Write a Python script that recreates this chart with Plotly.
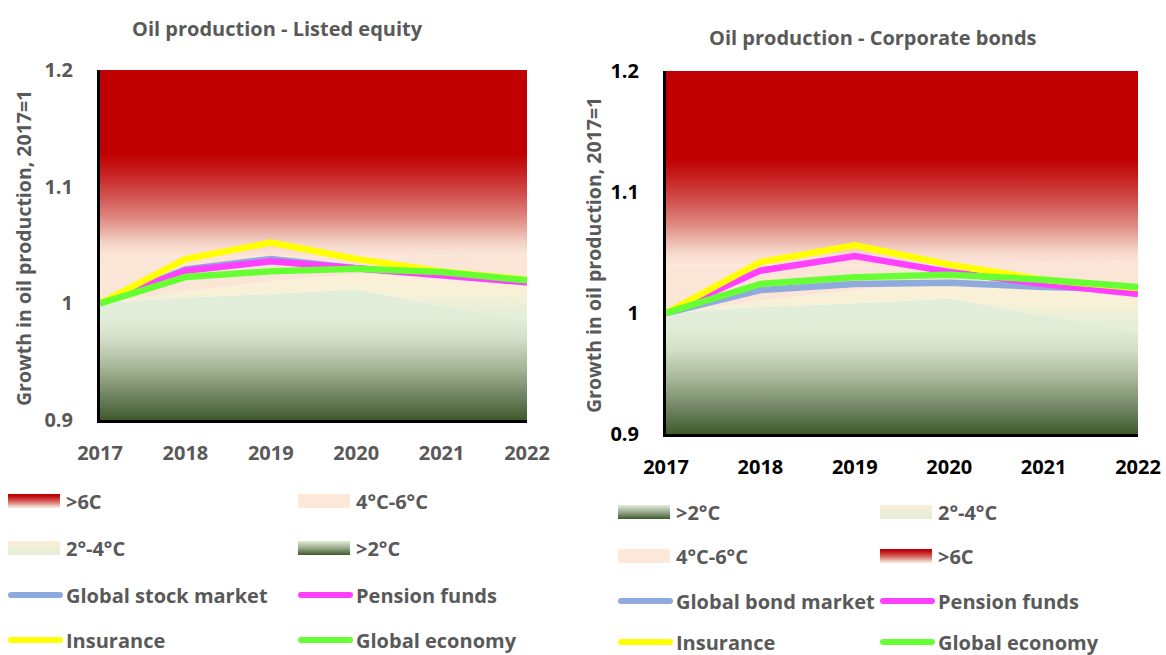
import plotly.graph_objects as go

# ---------------- data ----------------
years = [2017, 2018, 2019, 2020, 2021, 2022]
y_ticks = [0.9, 1.0, 1.1, 1.2]
y_tick_text = ["0.9", "1", "1.1", "1.2"]

band_floor = [0.9, 0.9, 0.9, 0.9, 0.9, 0.9]
band_below_2 = [1.0, 1.005, 1.008, 1.012, 0.998, 0.985]
band_2_4 = [1.0, 1.01, 1.019, 1.025, 1.023, 1.02]
band_4_6 = [1.04, 1.04, 1.04, 1.04, 1.041, 1.043]
band_above_6 = [1.2, 1.2, 1.2, 1.2, 1.2, 1.2]

eq_stock = [1.0, 1.029, 1.038, 1.030, 1.025, 1.018]
eq_pension = [1.0, 1.028, 1.036, 1.0296, 1.024, 1.018]
eq_insurance = [1.0, 1.038, 1.052, 1.038, 1.0274, 1.0203]
eq_economy = [1.0, 1.0225, 1.0274, 1.0296, 1.0268, 1.0197]

bd_market = [1.0, 1.019, 1.024, 1.025, 1.0215, 1.0195]
bd_pension = [1.0, 1.035, 1.047, 1.034, 1.024, 1.0157]
bd_insurance = [1.0, 1.042, 1.056, 1.040, 1.0275, 1.0207]
bd_economy = [1.0, 1.024, 1.0295, 1.0317, 1.0275, 1.0215]

titles = ["Oil production - Listed equity", "Oil production - Corporate bonds"]
y_title = "Growth in oil production, 2017=1"
band_names = [">2°C", "2°-4°C", "4°C-6°C", ">6C"]
eq_line_names = ["Global stock market", "Pension funds", "Insurance", "Global economy"]
bd_line_names = ["Global bond market", "Pension funds", "Insurance", "Global economy"]

# ---------------- styles ----------------
FONT = "Open Sans"
GREY = "#595959"
W, H = 1166, 655
line_colors = ["#8faadc", "#ff40ff", "#ffff00", "#66ff33"]

green_scale = [[0, "#3f5a2b"], [0.2, "#6d8260"], [0.45, "#a6b698"], [0.7, "#d3dfc8"],
               [0.85, "#e1ecd7"], [1, "#e3eeda"]]
cream_scale = [[0, "#e4eed9"], [0.5, "#f6f1d6"], [1, "#fdf0d9"]]
peach_color = "#fbe5d7"
red_scale = [[0, "#fbe5d7"], [0.04, "#f9ded2"], [0.08, "#f3cfc3"], [0.13, "#eab4a8"],
             [0.2, "#e08c84"], [0.34, "#d04c4a"], [0.45, "#c62020"], [0.55, "#c00000"],
             [1, "#c00000"]]

fig = go.Figure()


def add_chart(xa, ya, lines, names):
    xref = "x" if xa == 1 else f"x{xa}"
    yref = "y" if ya == 1 else f"y{ya}"
    fig.add_trace(go.Scatter(x=years, y=band_floor, mode="lines", line=dict(width=0),
                             xaxis=xref, yaxis=yref, showlegend=False, hoverinfo="skip"))
    fig.add_trace(go.Scatter(x=years, y=band_below_2, mode="none", fill="tonexty",
                             fillgradient=dict(type="vertical", colorscale=green_scale,
                                               start=0.9, stop=1.0),
                             xaxis=xref, yaxis=yref, name=band_names[0], showlegend=False))
    fig.add_trace(go.Scatter(x=years, y=band_2_4, mode="none", fill="tonexty",
                             fillgradient=dict(type="vertical", colorscale=cream_scale,
                                               start=0.99, stop=1.025),
                             xaxis=xref, yaxis=yref, name=band_names[1], showlegend=False))
    fig.add_trace(go.Scatter(x=years, y=band_4_6, mode="none", fill="tonexty",
                             fillcolor=peach_color,
                             xaxis=xref, yaxis=yref, name=band_names[2], showlegend=False))
    fig.add_trace(go.Scatter(x=years, y=band_above_6, mode="none", fill="tonexty",
                             fillgradient=dict(type="vertical", colorscale=red_scale,
                                               start=1.04, stop=1.2),
                             xaxis=xref, yaxis=yref, name=band_names[3], showlegend=False))
    for vals, nm, col in zip(lines, names, line_colors):
        fig.add_trace(go.Scatter(x=years, y=vals, mode="lines", name=nm,
                                 line=dict(color=col, width=6.5),
                                 xaxis=xref, yaxis=yref, showlegend=False))


add_chart(1, 1, [eq_stock, eq_pension, eq_insurance, eq_economy], eq_line_names)
add_chart(2, 2, [bd_market, bd_pension, bd_insurance, bd_economy], bd_line_names)


def px_x(p):
    return p / W


def px_y(p):
    return 1 - p / H


def xaxis_cfg(dom, anchor, color):
    return dict(domain=dom, anchor=anchor, range=[2017, 2022], tickvals=years,
                ticktext=[str(y) for y in years], showgrid=False, zeroline=False,
                showline=True, linecolor="black", linewidth=3, automargin=False,
                tickfont=dict(family=FONT, size=20, color=color, weight="bold"),
                ticklabelstandoff=13)


def yaxis_cfg(dom, anchor, color):
    return dict(domain=dom, anchor=anchor, range=[0.9, 1.2], tickvals=y_ticks,
                ticktext=y_tick_text, showgrid=False, zeroline=False,
                showline=True, linecolor="black", linewidth=3, automargin=False,
                tickfont=dict(family=FONT, size=20, color=color, weight="bold"),
                ticklabelstandoff=20)


fig.update_layout(
    width=W, height=H,
    margin=dict(l=0, r=0, t=0, b=0, autoexpand=False),
    paper_bgcolor="white", plot_bgcolor="white",
    showlegend=False,
    xaxis=xaxis_cfg([px_x(100), px_x(527)], "y", GREY),
    yaxis=yaxis_cfg([px_y(420), px_y(70)], "x", GREY),
    xaxis2=xaxis_cfg([px_x(666), px_x(1138)], "y2", "black"),
    yaxis2=yaxis_cfg([px_y(434), px_y(71)], "x2", "black"),
)

annotations = []
shapes = []

TF = dict(family=FONT, size=20, color=GREY, weight="bold")
annotations.append(dict(text=titles[0], x=px_x(277), y=px_y(28), xref="paper", yref="paper",
                        xanchor="center", yanchor="middle", showarrow=False, font=TF))
annotations.append(dict(text=titles[1], x=px_x(873), y=px_y(37), xref="paper", yref="paper",
                        xanchor="center", yanchor="middle", showarrow=False, font=TF))
YF = dict(family=FONT, size=19.5, color=GREY, weight="bold")
annotations.append(dict(text=y_title, x=px_x(23), y=px_y(248), xref="paper", yref="paper",
                        xanchor="center", yanchor="middle",
                        textangle=-90, showarrow=False, font=YF))
annotations.append(dict(text=y_title, x=px_x(593), y=px_y(255), xref="paper", yref="paper",
                        xanchor="center", yanchor="middle",
                        textangle=-90, showarrow=False, font=YF))


def hex_to_rgb(h):
    h = h.lstrip("#")
    return tuple(int(h[i:i + 2], 16) for i in (0, 2, 4))


def sample(scale, t):
    for (a, ca), (b, cb) in zip(scale[:-1], scale[1:]):
        if a <= t <= b:
            f = 0 if b == a else (t - a) / (b - a)
            r1, g1, b1 = hex_to_rgb(ca)
            r2, g2, b2 = hex_to_rgb(cb)
            return "rgb(%d,%d,%d)" % (r1 + (r2 - r1) * f, g1 + (g2 - g1) * f, b1 + (b2 - b1) * f)
    return scale[-1][1]


swatch_scales = {
    ">6C": red_scale,
    "4°C-6°C": [[0, "#fde9d9"], [1, "#fde9d9"]],
    "2°-4°C": [[0, "#e4eed9"], [1, "#fbefd6"]],
    ">2°C": [[0, "#3f5a2b"], [0.5, "#9aab8d"], [1, "#e3eed9"]],
}
line_color_by_name = {
    "Global stock market": line_colors[0], "Global bond market": line_colors[0],
    "Pension funds": line_colors[1], "Insurance": line_colors[2], "Global economy": line_colors[3],
}
LF = dict(family=FONT, size=20, color=GREY, weight="bold")


def legend_item(label, x0, yc):
    if label in swatch_scales:
        sc = swatch_scales[label]
        n = 14
        top, bot = yc - 7, yc + 7
        for i in range(n):
            ya = top + (bot - top) * i / n
            yb = top + (bot - top) * (i + 1) / n
            t = 1 - (i + 0.5) / n
            if label == ">6C":
                t = 0.6 - 0.6 * (i + 0.5) / n
            shapes.append(dict(type="rect", xref="paper", yref="paper",
                               x0=px_x(x0), x1=px_x(x0 + 52), y0=px_y(yb), y1=px_y(ya),
                               fillcolor=sample(sc, t), line=dict(width=0), layer="above"))
    else:
        shapes.append(dict(type="line", xref="paper", yref="paper",
                           x0=px_x(x0 + 3), x1=px_x(x0 + 52), y0=px_y(yc), y1=px_y(yc),
                           line=dict(color=line_color_by_name[label], width=6), layer="above"))
        for cx in (x0 + 3, x0 + 52):
            shapes.append(dict(type="circle", xref="paper", yref="paper",
                               x0=px_x(cx - 3), x1=px_x(cx + 3), y0=px_y(yc + 3), y1=px_y(yc - 3),
                               fillcolor=line_color_by_name[label], line=dict(width=0),
                               layer="above"))
    annotations.append(dict(text=label, x=px_x(x0 + 56), y=px_y(yc), xref="paper", yref="paper",
                            xanchor="left", yanchor="middle", showarrow=False, font=LF))


left_legend = [">6C", "4°C-6°C", "2°-4°C", ">2°C"] + eq_line_names
right_legend = [">2°C", "2°-4°C", "4°C-6°C", ">6C"] + bd_line_names
left_cols, left_rows = [8, 298], [501, 548, 595, 640]
right_cols, right_rows = [618, 880], [512, 556, 601, 642]
for i, lab in enumerate(left_legend):
    legend_item(lab, left_cols[i % 2], left_rows[i // 2])
for i, lab in enumerate(right_legend):
    legend_item(lab, right_cols[i % 2], right_rows[i // 2])

fig.update_layout(annotations=annotations, shapes=shapes)
fig.write_html("out.html", config={"displayModeBar": False},
               post_script="document.body.style.margin='0';document.body.style.overflow='hidden';")
